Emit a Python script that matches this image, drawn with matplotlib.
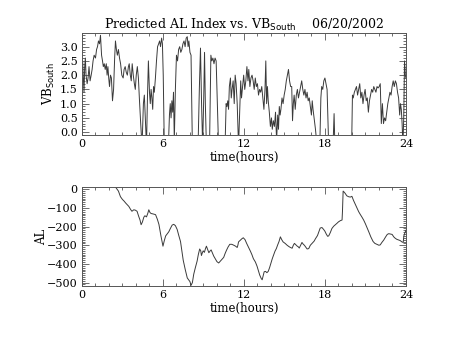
import matplotlib
matplotlib.use("Agg")
import matplotlib.pyplot as plt
from matplotlib.ticker import MultipleLocator, FormatStrFormatter

plt.rcParams['font.family'] = ['DejaVu Serif']

# VB south (solar wind), hours; values below zero are clipped at the axis floor
vb_t = [0.00, 0.05, 0.10, 0.15, 0.20, 0.25, 0.30, 0.38, 0.45, 0.52, 0.60, 0.68, 0.75,
        0.82, 0.90, 1.00, 1.08, 1.15, 1.22, 1.30, 1.37, 1.45, 1.52, 1.58, 1.65, 1.72,
        1.80, 1.86, 1.92, 1.98, 2.04, 2.11, 2.18, 2.26, 2.34, 2.42, 2.48, 2.55, 2.62,
        2.70, 2.78, 2.86, 2.95, 3.05, 3.12, 3.20, 3.28, 3.36, 3.44, 3.50, 3.58, 3.65,
        3.72, 3.80, 3.88, 3.95, 4.02, 4.10, 4.18, 4.25, 4.35, 4.45, 4.55, 4.62, 4.70,
        4.78, 4.85, 4.92, 5.00, 5.06, 5.12, 5.18, 5.24, 5.30, 5.36, 5.44, 5.52, 5.60,
        5.68, 5.75, 5.82, 5.90, 5.96, 6.02, 6.10, 6.40, 6.48, 6.54, 6.60, 6.66, 6.72,
        6.78, 6.84, 6.92, 7.00, 7.08, 7.16, 7.24, 7.32, 7.40, 7.48, 7.56, 7.64, 7.72,
        7.80, 7.86, 7.92, 8.00, 8.08, 8.18, 8.60, 8.70, 8.78, 8.86, 8.94, 9.02, 9.08,
        9.14, 9.22, 9.45, 9.55, 9.62, 9.70, 9.78, 9.86, 9.94, 10.02, 10.12, 10.60,
        10.68, 10.74, 10.80, 10.86, 10.92, 11.00, 11.06, 11.12, 11.20, 11.28, 11.35,
        11.42, 11.50, 11.60, 11.70, 11.76, 11.82, 11.90, 11.98, 12.06, 12.14, 12.22,
        12.30, 12.36, 12.44, 12.52, 12.60, 12.68, 12.76, 12.84, 12.92, 13.00, 13.08,
        13.16, 13.24, 13.32, 13.40, 13.48, 13.56, 13.62, 13.68, 13.74, 13.80, 13.88,
        13.96, 14.04, 14.10, 14.18, 14.26, 14.34, 14.42, 14.50, 14.56, 14.62, 14.68,
        14.74, 14.82, 14.90, 14.98, 15.06, 15.14, 15.22, 15.30, 15.38, 15.46, 15.54,
        15.60, 15.66, 15.72, 15.80, 15.88, 15.96, 16.04, 16.12, 16.20, 16.28, 16.36,
        16.44, 16.52, 16.60, 16.68, 16.76, 16.84, 16.92, 17.00, 17.06, 17.12, 17.20,
        17.30, 17.42, 17.62, 17.70, 17.76, 17.84, 17.92, 18.00, 18.08, 18.16, 18.28,
        18.60, 18.68, 18.74, 18.82, 19.98, 20.04, 20.10, 20.18, 20.26, 20.34, 20.42,
        20.50, 20.58, 20.66, 20.74, 20.82, 20.90, 20.98, 21.06, 21.14, 21.22, 21.30,
        21.38, 21.46, 21.54, 21.62, 21.70, 21.78, 21.86, 21.94, 22.02, 22.10, 22.18,
        22.26, 22.34, 22.42, 22.50, 22.58, 22.66, 22.74, 22.82, 22.90, 22.98, 23.06,
        23.14, 23.22, 23.30, 23.38, 23.46, 23.54, 23.60, 23.66, 23.72, 23.78, 23.84,
        23.90, 23.96, 24.00]
vb_v = [2.2, 2.5, 1.9, 1.4, 2.3, 2.6, 2.0, 1.7, 1.9, 2.3, 1.8, 2.0, 2.2,
        2.5, 2.7, 2.6, 2.9, 3.0, 3.2, 3.1, 3.4, 2.7, 2.5, 2.3, 2.4, 2.2,
        2.4, 2.0, 2.3, 1.9, 1.6, 2.0, 1.9, 1.1, 1.5, 2.6, 3.2, 2.9, 2.7,
        2.9, 2.6, 2.4, 2.0, 1.9, 2.2, 2.3, 2.1, 2.0, 2.3, 2.4, 2.0, 1.8,
        2.4, 2.0, 1.7, 1.5, 2.0, 2.3, 1.9, 1.2, 0.3, -0.5, 1.0, 1.3, 0.4,
        -0.5, 1.2, 2.5, 1.4, 1.0, 1.5, 1.2, 0.8, 1.6, 1.4, 1.9, 2.5, 3.0,
        3.1, 3.2, 3.0, 3.3, 3.1, 2.0, -0.5, -0.5, 0.6, 1.0, 0.5, 1.1, 0.7,
        1.4, -0.3, 1.5, 2.7, 2.5, 2.9, 3.0, 2.8, 2.9, 3.1, 3.2, 3.0, 3.3,
        3.35, 3.0, 3.2, 2.8, 2.7, -0.5, -0.5, 1.6, 2.95, 1.0, -0.5, 1.2, 2.8,
        1.0, -0.5, -0.5, 2.7, 2.5, 2.6, 2.4, 2.6, 2.5, 1.2, -0.5, -0.5,
        1.0, 0.9, 1.1, 0.8, 1.6, 1.9, 1.2, 1.5, 1.8, 1.0, 2.0,
        1.7, 1.0, -0.5, 1.0, 1.8, 1.2, 1.6, 2.0, 1.5, 1.8, 2.3,
        1.8, 2.2, 1.6, 1.9, 2.0, 1.8, 1.5, 1.9, 1.6, 1.7, 1.3,
        1.5, 1.4, 1.6, 1.2, 0.8, 1.5, 2.5, 1.0, 1.6, 1.1, 0.7,
        0.2, 0.5, 0.1, 0.4, 0.2, 0.7, -0.3, 0.6, 0.1, 0.9, 0.6,
        0.8, 1.2, 1.0, 1.3, 1.5, 1.8, 2.0, 2.2, 1.8, 1.6, 1.6,
        0.4, 1.0, 1.3, 0.8, 1.3, 1.5, 1.2, 1.4, 1.6, 1.8, 1.5,
        1.3, 1.5, 1.2, 1.4, 1.1, 1.2, 0.9, 0.6, 1.1, 0.8, 0.5,
        0.1, -0.5, -0.5, 1.2, 1.6, 1.5, 1.8, 1.9, 1.7, 1.5, -0.5,
        -0.5, 0.65, -0.5, -0.5, -0.5, 1.3, 1.2, 1.4, 1.5, 1.6, 1.3,
        1.5, 1.7, 1.2, 1.4, 1.0, 1.3, 1.5, 1.1, 1.2, 0.7, 1.1,
        1.3, 1.5, 1.4, 1.6, 1.5, 1.4, 1.6, 1.55, 1.6, 1.7, 0.3,
        1.0, 0.3, 0.5, 0.4, 0.7, 1.0, 1.2, 1.4, 1.3, 1.6, 1.8,
        1.6, 1.8, 1.7, 1.4, 1.2, 0.6, 1.0, 0.8, 0.3, -0.5, 0.5,
        2.5, 2.0, 1.9]

# predicted AL index (nT)
al_t = [2.50, 2.70, 2.85, 3.00, 3.10, 3.25, 3.47, 3.60, 3.70, 3.84, 3.95, 4.08,
        4.20, 4.30, 4.38, 4.48, 4.58, 4.66, 4.78, 4.88, 4.95, 5.04, 5.12, 5.25,
        5.45, 5.58, 5.70, 5.85, 6.00, 6.10, 6.20, 6.30, 6.43, 6.55, 6.68, 6.80,
        6.92, 7.05, 7.18, 7.30, 7.40, 7.50, 7.65, 7.80, 7.90, 8.00, 8.08, 8.18,
        8.28, 8.40, 8.53, 8.62, 8.72, 8.80, 8.85, 8.92, 8.98, 9.07, 9.15, 9.22,
        9.30, 9.40, 9.50, 9.57, 9.66, 9.76, 9.90, 10.00, 10.13, 10.25, 10.38,
        10.50, 10.60, 10.70, 10.82, 10.95, 11.10, 11.25, 11.38, 11.50, 11.55,
        11.60, 11.75, 11.85, 11.95, 12.08, 12.20, 12.35, 12.48, 12.60, 12.70,
        12.85, 12.97, 13.08, 13.17, 13.28, 13.35, 13.42, 13.50, 13.60, 13.70,
        13.80, 13.90, 14.00, 14.10, 14.20, 14.30, 14.40, 14.50, 14.60, 14.70,
        14.80, 14.90, 15.05, 15.20, 15.35, 15.45, 15.57, 15.66, 15.74, 15.82,
        15.95, 16.02, 16.10, 16.20, 16.30, 16.40, 16.48, 16.58, 16.68, 16.80,
        16.92, 17.05, 17.20, 17.30, 17.45, 17.55, 17.65, 17.78, 17.90, 18.00,
        18.10, 18.20, 18.28, 18.40, 18.52, 18.65, 18.78, 18.90, 19.00, 19.15,
        19.27, 19.30, 19.35, 19.42, 19.50, 19.62, 19.75, 19.88, 20.00, 20.12,
        20.26, 20.38, 20.50, 20.62, 20.75, 20.87, 21.00, 21.12, 21.25, 21.40,
        21.57, 21.70, 21.86, 22.00, 22.10, 22.22, 22.36, 22.50, 22.62, 22.73,
        22.85, 22.98, 23.10, 23.20, 23.32, 23.47, 23.58, 23.70, 23.80, 23.85,
        23.92, 24.00]
al_v = [10, -10, -40, -55, -62, -75, -92, -108, -118, -110, -112, -118,
        -145, -165, -190, -175, -150, -142, -148, -128, -110, -125, -130, -132,
        -136, -160, -188, -250, -305, -275, -250, -240, -228, -210, -192, -188,
        -195, -215, -250, -280, -330, -380, -430, -475, -485, -495, -515, -500,
        -455, -420, -385, -350, -320, -330, -355, -340, -330, -338, -318, -305,
        -320, -340, -330, -325, -340, -358, -375, -388, -395, -385, -375,
        -365, -345, -328, -310, -295, -295, -300, -305, -312, -300,
        -282, -272, -265, -260, -270, -290, -312, -332, -352, -372,
        -390, -412, -438, -460, -478, -485, -465, -442, -440, -447,
        -440, -420, -395, -372, -352, -332, -318, -298, -280, -255,
        -270, -282, -290, -300, -308, -312, -316, -300, -290, -296,
        -305, -308, -315, -300, -285, -295, -300, -310, -320, -318,
        -300, -290, -278, -265, -248, -228, -208, -205, -215, -225,
        -240, -252, -250, -232, -210, -198, -190, -182, -175, -168,
        -165, -120, -10, -15, -22, -35, -40, -42, -38, -60,
        -82, -100, -120, -135, -150, -165, -185, -205, -228, -255,
        -280, -290, -295, -300, -298, -285, -272, -255, -242, -238,
        -240, -242, -255, -262, -268, -272, -275, -282, -285, -250,
        -235, -220]

fig = plt.figure(figsize=(4.53, 3.40), dpi=100)
ax1 = fig.add_axes([0.181, 0.603, 0.715, 0.300])
ax2 = fig.add_axes([0.181, 0.159, 0.715, 0.291])

line_kw = dict(color='#3a3a3a', lw=0.7)
ax1.plot(vb_t, vb_v, **line_kw)
ax2.plot(al_t, al_v, **line_kw)

ax1.set_ylim(-0.1, 3.48)
ax2.set_ylim(-518, 12)

for ax in (ax1, ax2):
    ax.set_xlim(0, 24)
    ax.xaxis.set_major_locator(MultipleLocator(6))
    ax.xaxis.set_minor_locator(MultipleLocator(1))
    ax.tick_params(which='both', direction='in', top=True, right=True,
                   labelsize=8, width=0.6, color='#555555', pad=3)
    ax.tick_params(which='major', length=5)
    ax.tick_params(which='minor', length=2.5)
    ax.set_xlabel('time(hours)', fontsize=8.5, labelpad=1)
    for s in ax.spines.values():
        s.set_linewidth(0.7)
        s.set_color('#555555')

ax1.yaxis.set_major_locator(MultipleLocator(0.5))
ax1.yaxis.set_minor_locator(MultipleLocator(0.1))
ax1.yaxis.set_major_formatter(FormatStrFormatter('%.1f'))
ax2.yaxis.set_major_locator(MultipleLocator(100))
ax2.yaxis.set_minor_locator(MultipleLocator(10))

ax1.set_ylabel('VB$_{\\mathrm{South}}$', fontsize=8.5, labelpad=2)
ax2.set_ylabel('AL', fontsize=8.5, labelpad=-1)
ax1.set_title('Predicted AL Index vs. VB$_{\\mathrm{South}}$    06/20/2002',
              fontsize=9, pad=3)

fig.savefig('out.png', dpi=100)
